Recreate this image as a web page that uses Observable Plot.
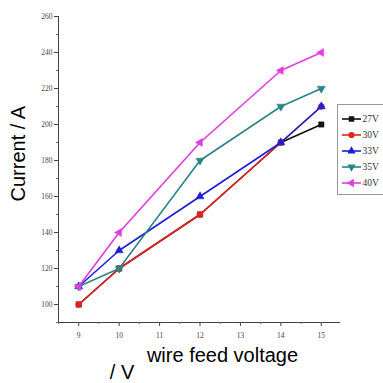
<!DOCTYPE html>
<html>
<head>
<meta charset="utf-8">
<script src="https://cdn.jsdelivr.net/npm/d3@7"></script>
<script src="https://cdn.jsdelivr.net/npm/@observablehq/plot@0.6"></script>
<style>
  html, body { margin: 0; padding: 0; background: #fff; }
  #wrap { position: relative; width: 383px; height: 383px; overflow: hidden; }
  #legend { position: absolute; left: 337px; top: 104px; width: 52px; height: 91px;
            border: 1px solid #999; background: #fff; box-sizing: border-box; }
</style>
</head>
<body>
<div id="wrap"><div id="legend"></div></div>
<script>
// ---- data ----
const feedVoltage = [9, 10, 12, 14, 15];
const seriesNames = ["27V", "30V", "33V", "35V", "40V"];
const current27 = [100, 120, 150, 190, 200];
const current30 = [100, 120, 150, 190, 210];
const current33 = [110, 130, 160, 190, 210];
const current35 = [110, 120, 180, 210, 220];
const current40 = [110, 140, 190, 230, 240];
const seriesColors = ["#111111", "#e8211c", "#1d1ddb", "#2a8585", "#e03ce0"];
const xTicks = [9, 10, 11, 12, 13, 14, 15];
const yTicks = [100, 120, 140, 160, 180, 200, 220, 240, 260];
const xMinorTicks = [8.5, 9.5, 10.5, 11.5, 12.5, 13.5, 14.5, 15];
const yMinorTicks = [90, 110, 130, 150, 170, 190, 210, 230, 250];
const yTitle = "Current / A";
const xTitle = "wire feed voltage";
const xUnit = "/ V";

// ---- custom symbols ----
const sqrt3 = Math.sqrt(3);
const triangleDown = { draw(ctx, size) {
  const y = -Math.sqrt(size / (sqrt3 * 3));
  ctx.moveTo(0, -y * 2); ctx.lineTo(-sqrt3 * y, y); ctx.lineTo(sqrt3 * y, y); ctx.closePath();
}};
const triangleLeft = { draw(ctx, size) {
  const y = -Math.sqrt(size / (sqrt3 * 3));
  ctx.moveTo(y * 2, 0); ctx.lineTo(-y, -sqrt3 * y); ctx.lineTo(-y, sqrt3 * y); ctx.closePath();
}};
const seriesSymbols = [d3.symbolSquare, d3.symbolCircle, d3.symbolTriangle, triangleDown, triangleLeft];

const seriesValues = [current27, current30, current33, current35, current40];
const rows = [];
seriesNames.forEach((s, i) => feedVoltage.forEach((v, j) => rows.push({series: s, x: v, y: seriesValues[i][j]})));

const serif = "'Liberation Serif', 'Times New Roman', serif";
const sans = "'Liberation Sans', Arial, sans-serif";

const marks = [
  Plot.frame({anchor: "left", stroke: "#444"}),
  Plot.frame({anchor: "bottom", stroke: "#444"}),
  Plot.axisY(yTicks, {tickSize: 4, tickPadding: 2, fontSize: 7.5, fontFamily: serif, color: "#444", label: null}),
  Plot.axisY(yMinorTicks, {tickSize: 2, text: null, color: "#666", label: null}),
  Plot.axisX(xTicks, {tickSize: 4, tickPadding: 6, fontSize: 7.5, fontFamily: serif, color: "#444", label: null}),
  Plot.axisX(xMinorTicks, {tickSize: 2, text: null, color: "#666", label: null}),
];
seriesNames.forEach((s, i) => {
  const d = rows.filter(r => r.series === s);
  marks.push(Plot.line(d, {x: "x", y: "y", stroke: seriesColors[i], strokeWidth: 1.6}));
  marks.push(Plot.dot(d, {x: "x", y: "y", fill: seriesColors[i], stroke: seriesColors[i], strokeWidth: 0.5, r: 3, symbol: () => seriesSymbols[i]}));
});
marks.push(
  Plot.text([yTitle], {frameAnchor: "left", dx: -40, dy: 32, rotate: -90, fontSize: 20, fontFamily: sans, fill: "#000"}),
  Plot.text([xTitle], {frameAnchor: "bottom", dx: 23.5, dy: 39, fontSize: 20, fontFamily: sans, fill: "#000"}),
  Plot.text([xUnit], {frameAnchor: "bottom", dx: -77, dy: 56, fontSize: 20, fontFamily: sans, fill: "#000"})
);

const chart = Plot.plot({
  width: 383, height: 383,
  marginLeft: 58, marginRight: 44, marginTop: 16, marginBottom: 61,
  style: {background: "#fff", overflow: "visible"},
  x: {domain: [8.5, 15.45]},
  y: {domain: [90, 260]},
  symbol: {domain: seriesNames, range: seriesSymbols},
  marks
});
document.getElementById("wrap").prepend(chart);

// ---- legend ----
const lg = d3.select("#legend").append("svg").attr("width", 52).attr("height", 91);
seriesNames.forEach((s, i) => {
  const cy = 14 + i * 16;
  const g = lg.append("g").attr("transform", `translate(0,${cy})`);
  g.append("line").attr("x1", 4).attr("x2", 23).attr("y1", 0).attr("y2", 0)
    .attr("stroke", seriesColors[i]).attr("stroke-width", 1.6);
  g.append("path").attr("transform", "translate(13.5,0)")
    .attr("d", d3.symbol(seriesSymbols[i], 30)())
    .attr("fill", seriesColors[i]);
  g.append("text").attr("x", 24.5).attr("y", 0).attr("dy", "0.35em")
    .attr("font-family", serif).attr("font-size", 9.5).attr("fill", "#333").text(s);
});
</script>
</body>
</html>
